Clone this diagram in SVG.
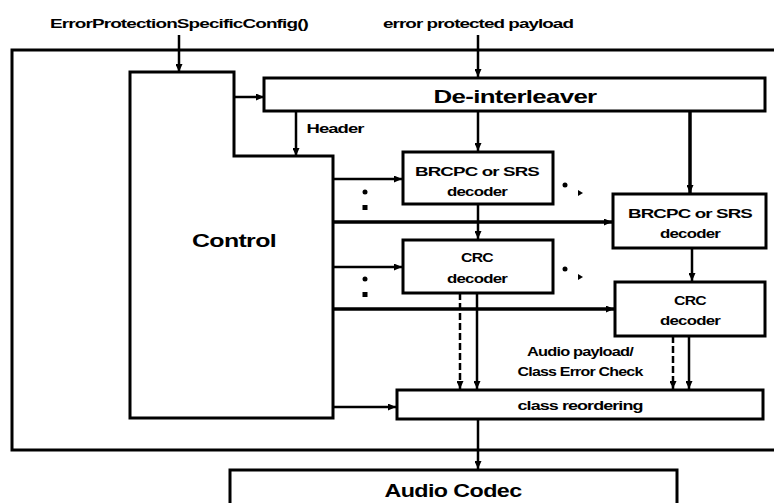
<svg xmlns="http://www.w3.org/2000/svg" width="774" height="503" viewBox="0 0 774 503">
<style>
.box{fill:#fff;stroke:#000;stroke-width:3}
.frame{fill:none;stroke:#000;stroke-width:3}
.ln{fill:none;stroke:#000;stroke-width:2.5}
.thick{fill:none;stroke:#000;stroke-width:3.5}
.dash{fill:none;stroke:#000;stroke-width:2.5;stroke-dasharray:7,3}
text{font-family:"Liberation Sans",Arial,sans-serif;font-weight:bold;fill:#000;text-anchor:middle}
.s{font-size:12px;letter-spacing:-0.6px}
.m{font-size:13px;letter-spacing:-0.6px}
.l{font-size:19px;letter-spacing:-0.5px}
</style>
<defs>
<marker id="ah" markerWidth="8" markerHeight="7" refX="8" refY="3.5" orient="auto" markerUnits="userSpaceOnUse">
<path d="M0,0 L8,3.5 L0,7 Z" fill="#000"/>
</marker>
</defs>
<rect class="frame" x="12" y="50" width="770" height="400"/>
<g id="labels">
<text class="m" x="179" y="28" textLength="258" lengthAdjust="spacingAndGlyphs">ErrorProtectionSpecificConfig()</text>
<text class="s" x="478" y="28" textLength="190" lengthAdjust="spacingAndGlyphs">error protected payload</text>
<text class="s" x="335" y="133" textLength="57" lengthAdjust="spacingAndGlyphs">Header</text>
<text class="s" x="580" y="356" textLength="106" lengthAdjust="spacingAndGlyphs">Audio payload/</text>
<text class="s" x="580" y="376" textLength="125" lengthAdjust="spacingAndGlyphs">Class Error Check</text>
</g>
<g id="control">
<path class="box" d="M130,72 H234 V156 H333 V418 H130 Z"/>
<text class="l" x="234" y="247" textLength="84" lengthAdjust="spacingAndGlyphs">Control</text>
</g>
<g id="deinterleaver">
<rect class="box" x="264" y="78" width="501" height="33"/>
<text class="l" x="515" y="103" textLength="163" lengthAdjust="spacingAndGlyphs">De-interleaver</text>
</g>
<g id="brcpc1">
<rect class="box" x="403" y="152" width="150" height="52"/>
<text class="m" x="477" y="176" textLength="124" lengthAdjust="spacingAndGlyphs">BRCPC or SRS</text>
<text class="m" x="477" y="196" textLength="60" lengthAdjust="spacingAndGlyphs">decoder</text>
</g>
<g id="crc1">
<rect class="box" x="403" y="240" width="150" height="53"/>
<text class="m" x="477" y="262" textLength="32" lengthAdjust="spacingAndGlyphs">CRC</text>
<text class="m" x="477" y="283" textLength="60" lengthAdjust="spacingAndGlyphs">decoder</text>
</g>
<g id="brcpc2">
<rect class="box" x="613" y="194" width="153" height="54"/>
<text class="m" x="690" y="218" textLength="124" lengthAdjust="spacingAndGlyphs">BRCPC or SRS</text>
<text class="m" x="690" y="238" textLength="60" lengthAdjust="spacingAndGlyphs">decoder</text>
</g>
<g id="crc2">
<rect class="box" x="615" y="282" width="150" height="54"/>
<text class="m" x="690" y="305" textLength="32" lengthAdjust="spacingAndGlyphs">CRC</text>
<text class="m" x="690" y="325" textLength="60" lengthAdjust="spacingAndGlyphs">decoder</text>
</g>
<g id="classreordering">
<rect class="box" x="397" y="390" width="366" height="29"/>
<text class="s" x="580" y="410" textLength="125" lengthAdjust="spacingAndGlyphs">class reordering</text>
</g>
<g id="audiocodec">
<rect class="box" x="230" y="470" width="447" height="40"/>
<text class="l" x="453" y="497" textLength="137" lengthAdjust="spacingAndGlyphs">Audio Codec</text>
</g>
<g id="connectors">
<line class="ln" x1="179" y1="35" x2="179" y2="72" marker-end="url(#ah)"/>
<line class="ln" x1="478" y1="35" x2="478" y2="77" marker-end="url(#ah)"/>
<line class="ln" x1="234" y1="97" x2="264" y2="97" marker-end="url(#ah)"/>
<line class="ln" x1="296" y1="111" x2="296" y2="156" marker-end="url(#ah)"/>
<line class="ln" x1="478" y1="111" x2="478" y2="151" marker-end="url(#ah)"/>
<line class="thick" x1="690" y1="111" x2="690" y2="193" marker-end="url(#ah)"/>
<line class="ln" x1="333" y1="179" x2="402" y2="179" marker-end="url(#ah)"/>
<line class="thick" x1="333" y1="222" x2="612" y2="222" marker-end="url(#ah)"/>
<line class="ln" x1="478" y1="204" x2="478" y2="239" marker-end="url(#ah)"/>
<line class="ln" x1="333" y1="267" x2="402" y2="267" marker-end="url(#ah)"/>
<line class="thick" x1="333" y1="309" x2="614" y2="309" marker-end="url(#ah)"/>
<line class="ln" x1="692" y1="248" x2="692" y2="281" marker-end="url(#ah)"/>
<line class="dash" x1="460" y1="293" x2="460" y2="389" marker-end="url(#ah)"/>
<line class="ln" x1="477" y1="293" x2="477" y2="389" marker-end="url(#ah)"/>
<line class="dash" x1="673" y1="336" x2="673" y2="389" marker-end="url(#ah)"/>
<line class="ln" x1="689" y1="336" x2="689" y2="389" marker-end="url(#ah)"/>
<line class="ln" x1="333" y1="407" x2="396" y2="407" marker-end="url(#ah)"/>
<line class="ln" x1="478" y1="419" x2="478" y2="469" marker-end="url(#ah)"/>
</g>
<g id="dots" fill="#000">
<circle cx="365" cy="192" r="2.5"/>
<rect x="362.5" y="205" width="5" height="5"/>
<circle cx="365" cy="279" r="2.5"/>
<rect x="362.5" y="292" width="5" height="5"/>
<circle cx="565" cy="185" r="2.5"/>
<path d="M578,190 L583,193 L578,196 Z"/>
<circle cx="565" cy="269" r="2.5"/>
<path d="M578,274 L583,277 L578,280 Z"/>
</g>
</svg>
